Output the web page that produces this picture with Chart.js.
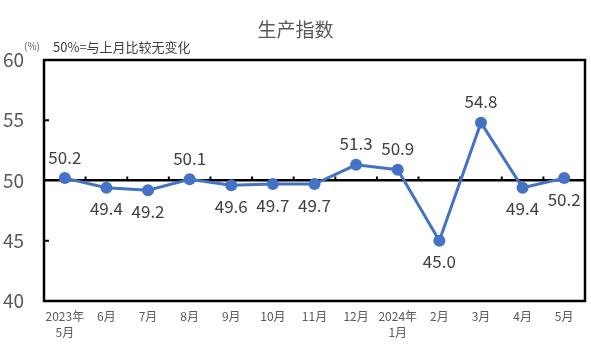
<!DOCTYPE html>
<html>
<head>
<meta charset="utf-8">
<script src="https://cdn.jsdelivr.net/npm/chart.js@4/dist/chart.umd.min.js"></script>
<style>
  html, body { margin: 0; padding: 0; background: #fff; }
  #wrap { width: 591px; height: 354px; }
</style>
</head>
<body>
<div id="wrap"><canvas id="c" width="591" height="354"></canvas></div>
<script>
// ── Data ─────────────────────────────────────────────────────────────────────

const months = [
  ["2023年", "5月"], "6月", "7月", "8月", "9月", "10月", "11月", "12月",
  ["2024年", "1月"], "2月", "3月", "4月", "5月"
];
const production = [50.2, 49.4, 49.2, 50.1, 49.6, 49.7, 49.7, 51.3, 50.9, 45.0, 54.8, 49.4, 50.2];
const labelSide = ["up", "down", "down", "up", "down", "down", "down", "up", "up", "down", "up", "down", "down"];
const yTicks = [40, 45, 50, 55, 60];

const chartTitle = "生产指数";
const unitText = "(%)";
const noteText = "50%=与上月比较无变化";

const FONT = "'Noto Sans CJK SC', 'Noto Sans', sans-serif";
const BLUE = "#4472C4";
const GREY = "#595959";

// ── Plugins ──────────────────────────────────────────────────────────────────

// plot box, inner ticks on the left axis, ticks along the 50 line
const frame = {
  id: "frame",
  beforeDatasetsDraw(chart) {
    const { ctx, chartArea: a, scales: { x, y } } = chart;
    ctx.save();
    ctx.strokeStyle = "#000";
    ctx.lineWidth = 2.5;
    ctx.strokeRect(a.left, a.top, a.right - a.left, a.bottom - a.top);

    ctx.lineWidth = 2;
    [45, 55].forEach(v => {
      const py = y.getPixelForValue(v);
      ctx.beginPath();
      ctx.moveTo(a.left, py);
      ctx.lineTo(a.left + 5, py);
      ctx.stroke();
    });

    const y50 = y.getPixelForValue(50);
    for (let i = 0; i < months.length - 1; i++) {
      const px = (x.getPixelForValue(i) + x.getPixelForValue(i + 1)) / 2;
      ctx.beginPath();
      ctx.moveTo(px, y50);
      ctx.lineTo(px, y50 - 4);
      ctx.stroke();
    }
    ctx.restore();
  },
  afterDraw(chart) {
    const { ctx } = chart;
    ctx.save();
    ctx.fillStyle = GREY;
    ctx.textBaseline = "middle";
    ctx.textAlign = "center";
    ctx.font = `19px ${FONT}`;
    ctx.fillText(chartTitle, chart.width / 2, 30);

    ctx.textAlign = "left";
    ctx.font = `10px ${FONT}`;
    ctx.fillText(unitText, 24, 46);
    ctx.fillStyle = "#404040";
    ctx.font = `13px ${FONT}`;
    ctx.fillText(noteText, 53, 47);
    ctx.restore();
  }
};

// value labels above / below each point
const valueLabels = {
  id: "valueLabels",
  afterDatasetsDraw(chart) {
    const { ctx } = chart;
    const meta = chart.getDatasetMeta(0);
    ctx.save();
    ctx.fillStyle = "#404040";
    ctx.font = `17px ${FONT}`;
    ctx.textAlign = "center";
    ctx.textBaseline = "middle";
    meta.data.forEach((pt, i) => {
      const dy = labelSide[i] === "up" ? -21 : 21;
      ctx.fillText(production[i].toFixed(1), pt.x, pt.y + dy);
    });
    ctx.restore();
  }
};

// ── Chart ────────────────────────────────────────────────────────────────────

new Chart(document.getElementById("c"), {
  type: "line",
  data: {
    labels: months,
    datasets: [{
      data: production,
      borderColor: BLUE,
      backgroundColor: BLUE,
      borderWidth: 3,
      pointRadius: 6,
      pointHoverRadius: 6,
      pointBackgroundColor: BLUE,
      pointBorderWidth: 0,
      tension: 0
    }]
  },
  options: {
    responsive: false,
    animation: false,
    layout: { padding: { top: 60, right: 5, left: 0, bottom: 0 } },
    plugins: { legend: { display: false }, tooltip: { enabled: false }, title: { display: false } },
    scales: {
      x: {
        offset: true,
        border: { display: false },
        grid: { display: false, drawTicks: false },
        ticks: {
          autoSkip: false,
          maxRotation: 0,
          padding: 7,
          color: GREY,
          font: { family: FONT, size: 12, lineHeight: 1.35 }
        },
        afterFit(scale) { scale.height = 53; }
      },
      y: {
        min: 40,
        max: 60,
        border: { display: false },
        afterBuildTicks(scale) { scale.ticks = yTicks.map(v => ({ value: v })); },
        grid: {
          drawTicks: false,
          color: c => (c.tick && c.tick.value === 50 ? "#000" : "rgba(0,0,0,0)"),
          lineWidth: 2.5
        },
        ticks: {
          padding: 20,
          color: GREY,
          font: { family: FONT, size: 19 }
        },
        afterFit(scale) { scale.width = 44; }
      }
    }
  },
  plugins: [frame, valueLabels]
});
</script>
</body>
</html>
